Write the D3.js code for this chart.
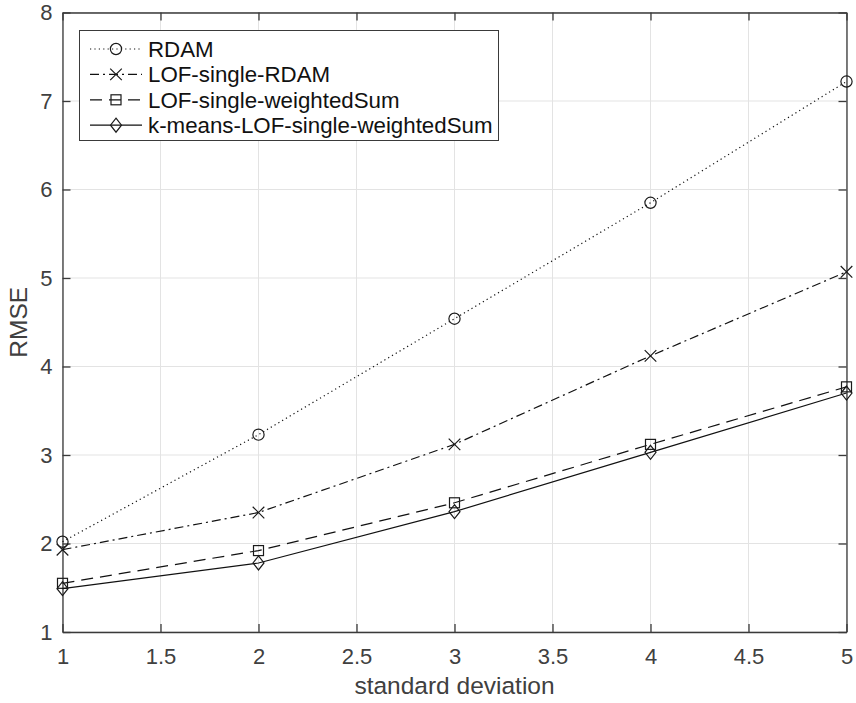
<!DOCTYPE html>
<html>
<head>
<meta charset="utf-8">
<script src="https://cdn.jsdelivr.net/npm/d3@7"></script>
<style>
  html, body { margin: 0; padding: 0; background: #fff; }
  svg { display: block; font-family: "Liberation Sans", Arial, Helvetica, sans-serif; }
</style>
</head>
<body>
<svg id="chart" width="856" height="703"></svg>
<script>
// Standard deviation of the added noise
const stdDev = [1, 2, 3, 4, 5];

// RMSE per method
const rdam = [2.02, 3.23, 4.54, 5.85, 7.22];
const lofSingleRdam = [1.93, 2.35, 3.12, 4.12, 5.07];
const lofSingleWeightedSum = [1.55, 1.92, 2.46, 3.12, 3.77];
const kmeansLofSingleWeightedSum = [1.49, 1.78, 2.36, 3.03, 3.70];

const seriesNames = ["RDAM", "LOF-single-RDAM", "LOF-single-weightedSum", "k-means-LOF-single-weightedSum"];
const xTicks = [1, 1.5, 2, 2.5, 3, 3.5, 4, 4.5, 5];
const yTicks = [1, 2, 3, 4, 5, 6, 7, 8];

const series = [
  { name: seriesNames[0], values: rdam, dash: "1.2,3.2", marker: "circle" },
  { name: seriesNames[1], values: lofSingleRdam, dash: "9,4,2,4", marker: "cross" },
  { name: seriesNames[2], values: lofSingleWeightedSum, dash: "12,7", marker: "square" },
  { name: seriesNames[3], values: kmeansLofSingleWeightedSum, dash: null, marker: "diamond" }
];

const svg = d3.select("#chart");
const plot = { left: 62.5, right: 846.5, top: 12.5, bottom: 632 };
const axisColor = "#3a3a3a", textColor = "#404040", gridColor = "#e3e3e3";
const tickFont = 22, labelFont = 24.5, legendFont = 22.3;

const x = d3.scaleLinear().domain([1, 5]).range([plot.left, plot.right]);
const y = d3.scaleLinear().domain([1, 8]).range([plot.bottom, plot.top]);

// grid
const grid = svg.append("g");
grid.selectAll("line.gx").data(xTicks).join("line")
  .attr("x1", d => x(d)).attr("x2", d => x(d))
  .attr("y1", plot.top).attr("y2", plot.bottom)
  .attr("stroke", gridColor).attr("stroke-width", 1);
grid.selectAll("line.gy").data(yTicks).join("line")
  .attr("x1", plot.left).attr("x2", plot.right)
  .attr("y1", d => y(d)).attr("y2", d => y(d))
  .attr("stroke", gridColor).attr("stroke-width", 1);

// axes with inward ticks on all four sides
const tickLen = 8;
function styleAxis(g) {
  g.attr("font-family", null).attr("font-size", null);
  g.select(".domain").attr("stroke", axisColor).attr("stroke-width", 1.3);
  g.selectAll(".tick line").attr("stroke", axisColor).attr("stroke-width", 1.3);
  g.selectAll(".tick text").attr("fill", textColor)
    .style("font-size", tickFont + "px");
}
svg.append("g").attr("transform", `translate(0,${plot.bottom})`)
  .call(d3.axisBottom(x).tickValues(xTicks).tickFormat(d3.format("~g"))
        .tickSizeInner(-tickLen).tickSizeOuter(0).tickPadding(16))
  .call(styleAxis);
svg.append("g").attr("transform", `translate(0,${plot.top})`)
  .call(d3.axisTop(x).tickValues(xTicks).tickFormat("")
        .tickSizeInner(-tickLen).tickSizeOuter(0))
  .call(styleAxis);
svg.append("g").attr("transform", `translate(${plot.left},0)`)
  .call(d3.axisLeft(y).tickValues(yTicks).tickFormat(d3.format("d"))
        .tickSizeInner(-tickLen).tickSizeOuter(0).tickPadding(10))
  .call(styleAxis);
svg.append("g").attr("transform", `translate(${plot.right},0)`)
  .call(d3.axisRight(y).tickValues(yTicks).tickFormat("")
        .tickSizeInner(-tickLen).tickSizeOuter(0))
  .call(styleAxis);

// axis titles
svg.append("text")
  .attr("x", (plot.left + plot.right) / 2).attr("y", 694)
  .attr("text-anchor", "middle").attr("fill", textColor)
  .style("font-size", labelFont + "px")
  .text("standard deviation");
svg.append("text")
  .attr("transform", `translate(27,${(plot.top + plot.bottom) / 2}) rotate(-90)`)
  .attr("text-anchor", "middle").attr("fill", textColor)
  .style("font-size", labelFont + "px")
  .text("RMSE");

// marker drawing
function drawMarker(g, type, cx, cy) {
  const s = "#1a1a1a", w = 1.2;
  if (type === "circle") {
    g.append("circle").attr("cx", cx).attr("cy", cy).attr("r", 5.6)
      .attr("fill", "none").attr("stroke", s).attr("stroke-width", w);
  } else if (type === "cross") {
    const r = 5.8;
    g.append("path").attr("d", `M${cx - r},${cy - r}L${cx + r},${cy + r}M${cx - r},${cy + r}L${cx + r},${cy - r}`)
      .attr("fill", "none").attr("stroke", s).attr("stroke-width", w);
  } else if (type === "square") {
    const r = 5;
    g.append("rect").attr("x", cx - r).attr("y", cy - r).attr("width", 2 * r).attr("height", 2 * r)
      .attr("fill", "none").attr("stroke", s).attr("stroke-width", w);
  } else if (type === "diamond") {
    const rx = 5.5, ry = 7;
    g.append("path").attr("d", `M${cx},${cy - ry}L${cx + rx},${cy}L${cx},${cy + ry}L${cx - rx},${cy}Z`)
      .attr("fill", "none").attr("stroke", s).attr("stroke-width", w);
  }
}

// series lines and markers
const line = d3.line().x((d, i) => x(stdDev[i])).y(d => y(d));
series.forEach(sr => {
  const g = svg.append("g");
  g.append("path").datum(sr.values)
    .attr("d", line)
    .attr("fill", "none").attr("stroke", "#111").attr("stroke-width", 1.2)
    .attr("stroke-dasharray", sr.dash);
  sr.values.forEach((v, i) => drawMarker(g, sr.marker, x(stdDev[i]), y(v)));
});

// legend
const legX = 79.5, legY = 30.5, legW = 419, legH = 110;
const leg = svg.append("g");
leg.append("rect").attr("x", legX).attr("y", legY).attr("width", legW).attr("height", legH)
  .attr("fill", "#fff").attr("stroke", axisColor).attr("stroke-width", 1);
series.forEach((sr, i) => {
  const cy = 49 + i * 25.4;
  leg.append("line").attr("x1", 90).attr("x2", 142).attr("y1", cy).attr("y2", cy)
    .attr("stroke", "#111").attr("stroke-width", 1.2)
    .attr("stroke-dasharray", sr.dash);
  drawMarker(leg, sr.marker, 116, cy);
  leg.append("text").attr("x", 148).attr("y", cy).attr("dy", "0.35em")
    .attr("fill", "#111").style("font-size", legendFont + "px")
    .text(sr.name);
});
</script>
</body>
</html>
